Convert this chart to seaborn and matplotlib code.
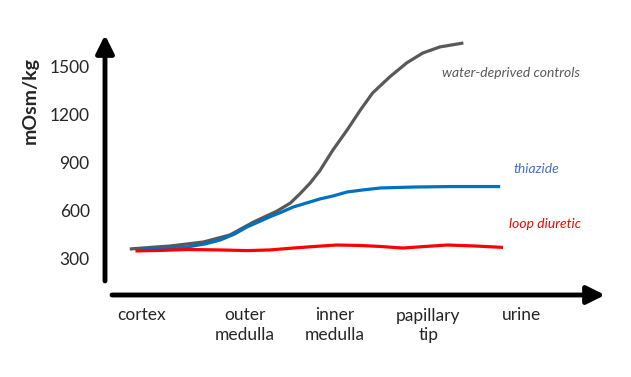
import numpy as np
import pandas as pd
import matplotlib
matplotlib.use('Agg')
import matplotlib.pyplot as plt
import seaborn as sns

# positions along the nephron (0 = cortex ... 4 = urine) and osmolality (mOsm/kg)
controls_x = [-0.13, 0.09, 0.30, 0.65, 0.93, 1.18, 1.43, 1.57, 1.67, 1.78, 1.88, 2.02, 2.17,
              2.31, 2.44, 2.62, 2.80, 2.97, 3.15, 3.40]
controls_y = [358, 368, 377, 402, 446, 527, 596, 646, 703, 772, 847, 978, 1103,
              1228, 1335, 1435, 1523, 1585, 1623, 1648]

thiazide_x = [-0.02, 0.24, 0.48, 0.67, 0.83, 0.98, 1.11, 1.23, 1.35, 1.48, 1.60, 1.74,
              1.88, 2.02, 2.17, 2.34, 2.52, 2.87, 3.26, 3.79]
thiazide_y = [352, 361, 371, 390, 415, 452, 496, 527, 559, 590, 621, 646,
              671, 690, 715, 728, 740, 746, 749, 749]

loop_x = [-0.07, 0.19, 0.48, 0.83, 1.11, 1.35, 1.60, 1.83, 2.06, 2.31, 2.52, 2.76,
          3.00, 3.23, 3.52, 3.82]
loop_y = [346, 349, 355, 352, 348, 352, 364, 374, 383, 380, 374, 364,
          374, 383, 377, 368]

regions = ['cortex', 'outer\nmedulla', 'inner\nmedulla', 'papillary\ntip', 'urine']
region_pos = [0, 1.09, 2.04, 3.03, 4.02]
yticks = [300, 600, 900, 1200, 1500]

series_names = ['water-deprived controls', 'thiazide', 'loop diuretic']
colors = {'water-deprived controls': '#595959', 'thiazide': '#0070C0', 'loop diuretic': '#FF0000'}
label_colors = {'water-deprived controls': '#595959', 'thiazide': '#4472C4', 'loop diuretic': '#FF0000'}

df = pd.concat([
    pd.DataFrame({'x': controls_x, 'y': controls_y, 'group': series_names[0]}),
    pd.DataFrame({'x': thiazide_x, 'y': thiazide_y, 'group': series_names[1]}),
    pd.DataFrame({'x': loop_x, 'y': loop_y, 'group': series_names[2]}),
])

sns.set_theme(style='white')
plt.rcParams['font.family'] = ['Lato', 'DejaVu Sans']

fig = plt.figure(figsize=(6.31, 3.77), dpi=100)
ax = fig.add_axes([105/631, 82/377, 500/631, 260/377])

sns.lineplot(data=df, x='x', y='y', hue='group', palette=colors, hue_order=series_names,
             linewidth=2.3, sort=False, estimator=None, legend=False, ax=ax)
for line in ax.lines:
    line.set_solid_joinstyle('round')
    line.set_solid_capstyle('butt')

ax.set_xlim(-0.392, 4.899)
ax.set_ylim(70, 1698)
ax.set_xticks(region_pos)
ax.set_xticklabels(regions, fontsize=12.5, linespacing=1.3)
ax.set_yticks(yticks)
ax.set_yticklabels([str(v) for v in yticks], fontsize=12.5)
ax.tick_params(length=0)
ax.tick_params(axis='y', pad=11)
ax.tick_params(axis='x', pad=9)
ax.set_xlabel('')
ax.set_ylabel('')
for s in ax.spines.values():
    s.set_visible(False)

arrow = dict(arrowstyle='-|>,head_length=0.6,head_width=0.3', lw=3.5, color='black',
             mutation_scale=18, shrinkA=0, shrinkB=0)
ax.annotate('', xy=(0, 1.0), xytext=(0, 0.054), xycoords='axes fraction', arrowprops=arrow)
ax.annotate('', xy=(1.0, 0), xytext=(0.014, 0), xycoords='axes fraction', arrowprops=arrow)

# series labels
ax.text(3.17, 1460, series_names[0], color=label_colors[series_names[0]], fontsize=10,
        style='italic', va='center', ha='left')
ax.text(3.93, 859, series_names[1], color=label_colors[series_names[1]], fontsize=10,
        style='italic', va='center', ha='left')
ax.text(3.88, 515, series_names[2], color=label_colors[series_names[2]], fontsize=10,
        style='italic', va='center', ha='left')

fig.text(30/631, 1 - 101/377, 'mOsm/kg', rotation=90, fontsize=14, fontweight='bold',
         ha='center', va='center')

fig.savefig('out.png', dpi=100)
